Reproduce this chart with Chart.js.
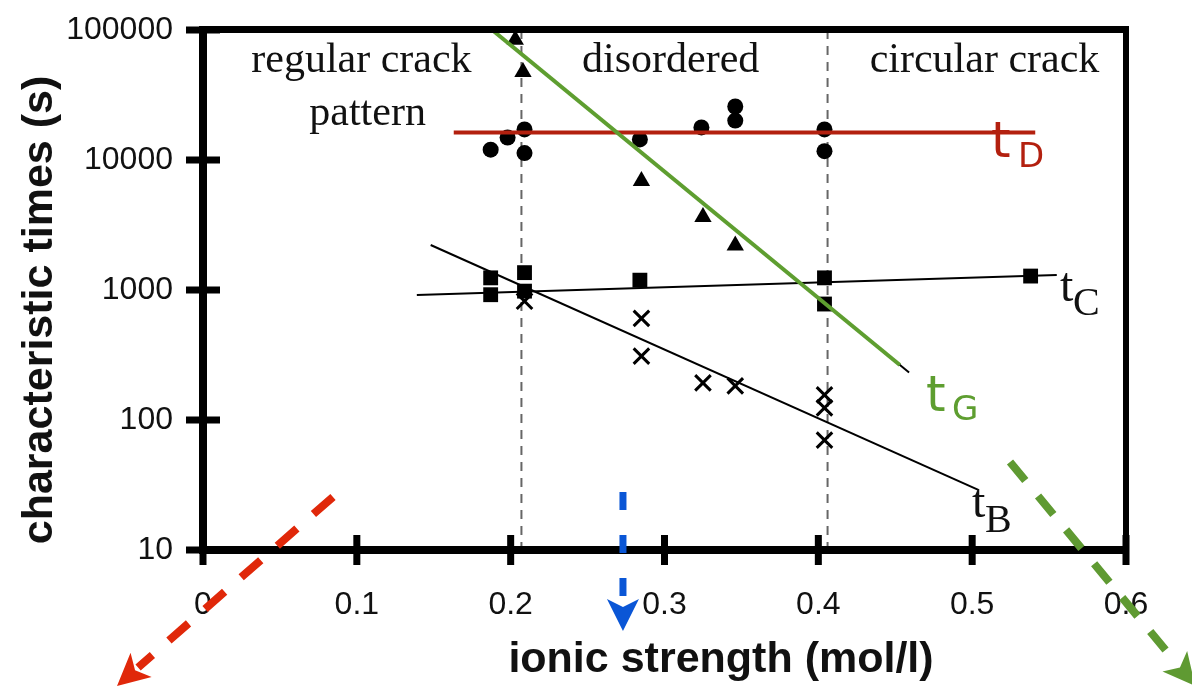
<!DOCTYPE html>
<html>
<head>
<meta charset="utf-8">
<script src="https://cdn.jsdelivr.net/npm/chart.js@4.4.1/dist/chart.umd.min.js"></script>
<style>
  html, body { margin: 0; padding: 0; background: #fff; }
</style>
</head>
<body>
<canvas id="chart" width="1192" height="686"></canvas>
<script>
// axis ticks
var xTicks = [0, 0.1, 0.2, 0.3, 0.4, 0.5, 0.6];
var yTicks = [10, 100, 1000, 10000, 100000];

var tdX = [0.187, 0.198, 0.209, 0.209, 0.284, 0.324, 0.346, 0.346, 0.404, 0.404];
var tdY = [12000, 14900, 17200, 11300, 14400, 17800, 25800, 20100, 17200, 11700];

var tgX = [0.203, 0.208, 0.285, 0.325, 0.346];
var tgY = [84000, 47500, 6900, 3650, 2200];

var tcX = [0.187, 0.187, 0.209, 0.209, 0.284, 0.404, 0.404, 0.538];
var tcY = [1240, 920, 1360, 980, 1190, 1240, 780, 1280];

var tbX = [0.209, 0.285, 0.285, 0.325, 0.346, 0.404, 0.404, 0.404];
var tbY = [820, 605, 310, 193, 183, 156, 124, 70];

// fitted lines, end points
var fitDX = [0.163, 0.541], fitDY = [16300, 16300];
var fitGX = [0.188, 0.453], fitGY = [100000, 265];
var fitGblackX = [0.188, 0.459], fitGblackY = [100000, 232];
var fitCX = [0.139, 0.555], fitCY = [916, 1304];
var fitBX = [0.148, 0.504], fitBY = [2220, 29];

// regime boundaries (ionic strength)
var boundaries = [0.207, 0.406];

function pts(xs, ys) {
    var out = [];
    for (var i = 0; i < xs.length; i++) out.push({x: xs[i], y: ys[i]});
    return out;
}

function lineSet(xs, ys, color, w) {
    return {data: pts(xs, ys), showLine: true, borderColor: color, borderWidth: w, pointRadius: 0, backgroundColor: color};
}

function markSet(xs, ys, style, r) {
    return {data: pts(xs, ys), pointStyle: style, pointRadius: r, backgroundColor: '#000', borderColor: '#000', borderWidth: style === 'crossRot' ? 3 : 0, showLine: false};
}

var decor = {
    id: 'decor',
    beforeDatasetsDraw: function (chart) {
        var ctx = chart.ctx, xs = chart.scales.x, ys = chart.scales.y, a = chart.chartArea;
        ctx.save();
        ctx.strokeStyle = '#666';
        ctx.lineWidth = 2;
        ctx.setLineDash([9, 7]);
        boundaries.forEach(function (b) {
            var px = xs.getPixelForValue(b);
            ctx.beginPath();
            ctx.moveTo(px, a.top);
            ctx.lineTo(px, a.bottom);
            ctx.stroke();
        });
        ctx.setLineDash([]);

        // regime names
        var names = [
            ['regular crack', 0.103, 47500],
            ['pattern', 0.107, 18600],
            ['disordered', 0.304, 47500],
            ['circular crack', 0.508, 47500]
        ];
        ctx.fillStyle = '#111';
        ctx.font = '42px "Liberation Serif", serif';
        ctx.textAlign = 'center';
        ctx.textBaseline = 'alphabetic';
        names.forEach(function (n) {
            ctx.fillText(n[0], xs.getPixelForValue(n[1]), ys.getPixelForValue(n[2]));
        });
        ctx.restore();
    },
    afterDatasetsDraw: function (chart) {
        var ctx = chart.ctx, xs = chart.scales.x, ys = chart.scales.y, a = chart.chartArea;
        ctx.save();

        // frame
        ctx.fillStyle = '#000';
        ctx.fillRect(a.left - 4, a.top - 4, 8, a.bottom - a.top + 8);
        ctx.fillRect(a.left - 4, a.bottom - 4, a.right - a.left + 7, 8);
        ctx.fillRect(a.left - 4, a.top - 4, a.right - a.left + 7, 7);
        ctx.fillRect(a.right - 3, a.top - 4, 6, a.bottom - a.top + 14);
        xs.ticks.forEach(function (t) {
            var px = xs.getPixelForValue(t.value);
            ctx.fillRect(px - 3.5, a.bottom - 15, 7, 30);
        });
        ys.ticks.forEach(function (t) {
            var py = ys.getPixelForValue(t.value);
            ctx.fillRect(a.left - 17, py - 3.5, 34, 7);
        });

        // curve names with subscripts
        var labels = [
            ['t', 'D', 0.5122, 10550, '#b3200f', '"DejaVu Sans", sans-serif', 50, 34, 27, 10],
            ['t', 'G', 0.470, 117, '#5e9e30', '"DejaVu Sans", sans-serif', 50, 34, 26, 9],
            ['t', 'C', 0.5571, 822, '#111', '"Liberation Serif", serif', 48, 40, 13, 14],
            ['t', 'B', 0.4999, 17.9, '#111', '"Liberation Serif", serif', 48, 40, 13, 15]
        ];
        ctx.textAlign = 'left';
        ctx.textBaseline = 'alphabetic';
        labels.forEach(function (l) {
            var px = xs.getPixelForValue(l[2]), py = ys.getPixelForValue(l[3]);
            ctx.fillStyle = l[4];
            ctx.font = l[6] + 'px ' + l[5];
            ctx.fillText(l[0], px, py);
            ctx.font = l[7] + 'px ' + l[5];
            ctx.fillText(l[1], px + l[8], py + l[9]);
        });

        // axis titles
        ctx.fillStyle = '#111';
        ctx.font = 'bold 43px "Liberation Sans", Arial, sans-serif';
        ctx.textAlign = 'center';
        ctx.textBaseline = 'middle';
        ctx.fillText('ionic strength (mol/l)', 721, 660);
        ctx.save();
        ctx.translate(40, 310);
        ctx.rotate(-Math.PI / 2);
        ctx.fillText('characteristic times (s)', 0, 0);
        ctx.restore();

        // dashed arrows
        var arrows = [
            [0.0845, 25.6, -0.0559, 0.90, '#e0280a', 8, [26, 22]],
            [0.273, 27.9, 0.273, 2.38, '#0a56d6', 7, [18, 25]],
            [0.5246, 47.5, 0.645, 0.90, '#5f9a32', 8, [24, 20]]
        ];
        arrows.forEach(function (ar) {
            var x0 = xs.getPixelForValue(ar[0]), y0 = ys.getPixelForValue(ar[1]);
            var x1 = xs.getPixelForValue(ar[2]), y1 = ys.getPixelForValue(ar[3]);
            var dx = x1 - x0, dy = y1 - y0, len = Math.sqrt(dx * dx + dy * dy);
            var ux = dx / len, uy = dy / len, head = 32, half = 16;
            var bx = x1 - ux * head, by = y1 - uy * head;
            ctx.strokeStyle = ar[4];
            ctx.fillStyle = ar[4];
            ctx.lineWidth = ar[5];
            ctx.setLineDash(ar[6]);
            ctx.beginPath();
            ctx.moveTo(x0, y0);
            ctx.lineTo(bx + ux * 4, by + uy * 4);
            ctx.stroke();
            ctx.setLineDash([]);
            ctx.beginPath();
            ctx.moveTo(x1, y1);
            ctx.lineTo(bx - uy * half, by + ux * half);
            ctx.lineTo(bx + ux * 8, by + uy * 8);
            ctx.lineTo(bx + uy * half, by - ux * half);
            ctx.closePath();
            ctx.fill();
        });
        ctx.restore();
    }
};

new Chart(document.getElementById('chart'), {
    type: 'scatter',
    data: {
        datasets: [
            lineSet(fitGX, fitGY, '#5e9e30', 4),
            lineSet(fitDX, fitDY, '#b3200f', 4),
            lineSet(fitGblackX, fitGblackY, '#000', 2),
            lineSet(fitCX, fitCY, '#000', 2),
            lineSet(fitBX, fitBY, '#000', 2),
            markSet(tdX, tdY, 'circle', 8),
            markSet(tgX, tgY, 'triangle', 10),
            markSet(tcX, tcY, 'rect', 10.5),
            markSet(tbX, tbY, 'crossRot', 11)
        ]
    },
    options: {
        responsive: false,
        animation: false,
        events: [],
        layout: {padding: {top: 30, right: 66, left: 0, bottom: 0}},
        plugins: {legend: {display: false}, tooltip: {enabled: false}},
        scales: {
            x: {
                type: 'linear',
                min: 0,
                max: 0.6,
                afterBuildTicks: function (s) { s.ticks = xTicks.map(function (v) { return {value: v}; }); },
                afterFit: function (s) { s.height = 136; s.paddingLeft = 0; s.paddingRight = 0; },
                grid: {display: false, drawTicks: false},
                border: {display: false},
                ticks: {
                    padding: 36,
                    color: '#111',
                    font: {family: '"Liberation Sans", Arial, sans-serif', size: 32},
                    callback: function (v) { return v === 0 ? '0' : v.toFixed(1); }
                }
            },
            y: {
                type: 'logarithmic',
                min: 10,
                max: 100000,
                afterBuildTicks: function (s) { s.ticks = yTicks.map(function (v) { return {value: v}; }); },
                afterFit: function (s) { s.width = 203; s.paddingTop = 0; s.paddingBottom = 0; },
                grid: {display: false, drawTicks: false},
                border: {display: false},
                ticks: {
                    padding: 30,
                    color: '#111',
                    font: {family: '"Liberation Sans", Arial, sans-serif', size: 32},
                    callback: function (v) { return String(v); }
                }
            }
        }
    },
    plugins: [decor]
});
</script>
</body>
</html>
